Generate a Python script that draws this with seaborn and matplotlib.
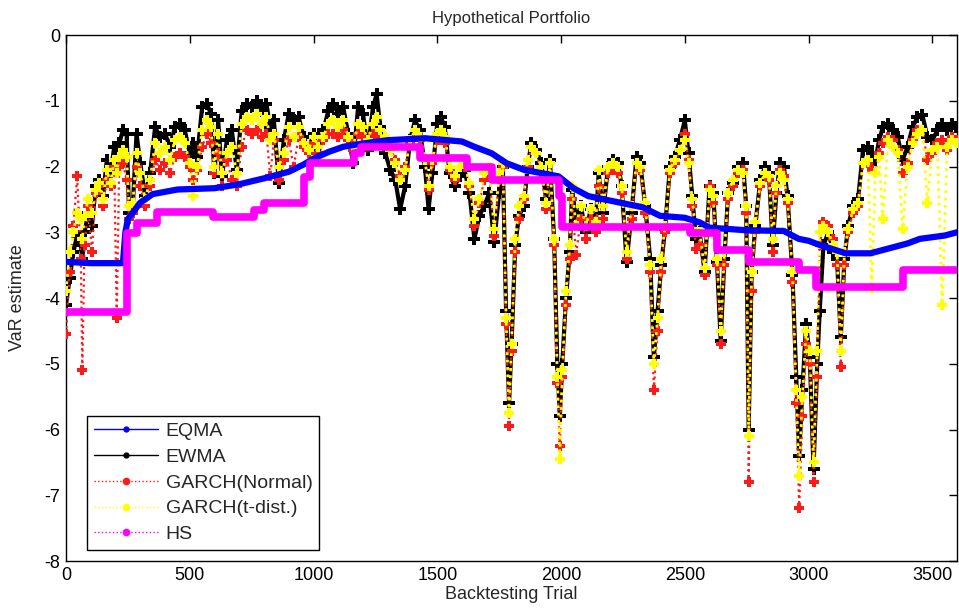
import matplotlib
matplotlib.use("Agg")
import matplotlib.pyplot as plt
from matplotlib.lines import Line2D
import seaborn as sns
import pandas as pd

# ---------------- data ----------------
trials = [0, 15, 30, 45, 60, 66, 75, 90, 105, 120, 135, 150, 165, 180, 195, 205, 215, 230, 245, 255,
          270, 285, 300, 320, 340, 360, 380, 400, 420, 440, 460, 480, 500, 515, 530, 550, 570, 585, 600, 615,
          630, 650, 670, 690, 710, 730, 750, 770, 790, 810, 825, 840, 860, 880, 900, 920, 940, 960, 980, 1000,
          1020, 1040, 1060, 1080, 1100, 1120, 1140, 1160, 1180, 1200, 1220, 1240, 1255, 1270, 1290, 1310, 1330, 1350, 1370, 1390,
          1410, 1430, 1450, 1465, 1480, 1500, 1515, 1530, 1550, 1570, 1590, 1610, 1630, 1650, 1670, 1690, 1710, 1730, 1750, 1765,
          1778, 1790, 1800, 1815, 1830, 1850, 1865, 1880, 1900, 1920, 1940, 1955, 1972, 1985, 1995, 2005, 2020, 2035, 2045, 2060,
          2080, 2100, 2120, 2140, 2152, 2170, 2190, 2210, 2230, 2245, 2265, 2285, 2305, 2320, 2340, 2360, 2375, 2390, 2405, 2420,
          2440, 2460, 2480, 2500, 2515, 2530, 2545, 2560, 2580, 2600, 2615, 2630, 2645, 2660, 2675, 2695, 2715, 2735, 2748, 2758,
          2770, 2785, 2805, 2825, 2840, 2855, 2870, 2885, 2900, 2915, 2935, 2950, 2962, 2975, 2990, 3005, 3020, 3035, 3045, 3060,
          3080, 3100, 3115, 3130, 3145, 3160, 3180, 3200, 3220, 3240, 3255, 3270, 3285, 3300, 3320, 3340, 3360, 3380, 3400, 3420,
          3440, 3460, 3480, 3500, 3520, 3540, 3560, 3580, 3595]

ewma = [-4.10, -3.70, -3.30, -3.05, -3.20, -3.40, -3.00, -2.70, -2.90, -2.30, -2.20, -2.45, -1.90, -2.10, -1.70, -1.90, -1.65, -1.45, -1.50, -2.70,
        -2.60, -1.50, -1.95, -2.45, -2.10, -1.40, -1.55, -1.50, -1.70, -1.40, -1.35, -1.45, -1.80, -1.65, -1.85, -1.10, -1.05, -1.20, -2.10, -1.30,
        -2.15, -1.60, -1.45, -2.05, -1.15, -1.05, -1.10, -1.00, -1.15, -1.05, -1.40, -1.30, -2.25, -1.60, -1.20, -1.30, -1.25, -1.55, -1.75, -1.50,
        -1.80, -1.45, -1.15, -1.05, -1.20, -1.10, -1.50, -1.95, -1.10, -1.20, -1.75, -1.10, -0.90, -1.40, -1.80, -2.05, -2.20, -2.65, -2.30, -1.60,
        -1.30, -1.45, -2.00, -2.65, -2.10, -1.35, -1.25, -1.40, -2.10, -2.30, -2.15, -2.05, -2.40, -3.10, -2.75, -2.60, -2.40, -3.15, -2.40, -2.00,
        -4.20, -5.60, -4.70, -3.20, -2.75, -2.60, -2.00, -1.65, -1.75, -1.95, -2.50, -1.90, -3.10, -5.00, -5.80, -5.00, -4.00, -3.30, -2.35, -2.80,
        -2.60, -3.00, -2.65, -2.90, -2.10, -2.70, -2.00, -1.90, -1.95, -2.30, -3.45, -2.70, -1.85, -1.95, -2.60, -3.40, -4.90, -4.20, -3.50, -2.95,
        -2.00, -1.85, -1.60, -1.30, -1.80, -2.45, -3.10, -3.00, -3.60, -2.30, -2.40, -3.45, -4.65, -3.40, -2.40, -2.25, -2.00, -1.95, -2.60, -6.00,
        -3.60, -2.90, -2.20, -2.00, -2.10, -3.20, -2.40, -1.95, -2.00, -2.45, -3.65, -5.20, -6.40, -5.40, -4.40, -4.90, -6.60, -5.00, -4.20, -3.20,
        -3.00, -3.30, -3.40, -4.60, -3.40, -2.90, -2.60, -2.50, -1.75, -1.70, -1.80, -1.90, -1.60, -1.40, -1.35, -1.45, -1.55, -1.90, -1.70, -1.40,
        -1.25, -1.22, -1.55, -1.60, -1.45, -1.35, -1.45, -1.35, -1.40]

garch_n = [-4.55, -3.60, -2.90, -2.15, -3.40, -5.10, -3.20, -2.60, -3.30, -2.40, -2.30, -2.60, -2.20, -2.30, -2.00, -4.30, -2.00, -1.95, -2.20, -2.80,
           -2.70, -2.00, -2.30, -2.60, -2.30, -1.90, -2.05, -1.95, -2.10, -1.85, -1.80, -1.85, -2.00, -2.20, -2.05, -1.70, -1.50, -1.65, -2.10, -1.80,
           -2.30, -1.90, -2.20, -2.30, -1.70, -1.45, -1.50, -1.45, -1.55, -1.50, -2.15, -1.60, -2.20, -1.90, -1.60, -2.00, -1.55, -1.70, -1.80, -1.65,
           -1.80, -1.60, -1.50, -1.50, -1.55, -1.45, -1.60, -1.75, -1.50, -1.55, -1.65, -1.50, -1.50, -1.55, -1.60, -1.70, -1.90, -2.15, -2.00, -1.65,
           -1.55, -1.60, -1.90, -2.35, -1.95, -1.60, -1.60, -1.65, -2.05, -2.20, -2.00, -2.00, -2.30, -2.90, -2.55, -2.20, -2.10, -3.05, -2.20, -2.00,
           -4.40, -5.95, -4.80, -3.30, -2.80, -2.50, -2.00, -1.70, -1.80, -2.10, -2.65, -1.95, -3.20, -5.30, -6.25, -5.20, -4.10, -3.40, -2.50, -3.35,
           -2.80, -3.10, -2.80, -3.00, -2.30, -2.80, -2.10, -2.00, -2.10, -2.40, -3.40, -2.80, -1.95, -2.05, -2.70, -3.60, -5.40, -4.50, -3.60, -3.00,
           -2.10, -1.95, -1.75, -1.50, -1.90, -2.60, -3.25, -3.20, -3.65, -2.30, -2.55, -3.50, -4.70, -3.50, -2.50, -2.30, -2.10, -2.05, -2.70, -6.80,
           -3.90, -3.00, -2.30, -2.10, -2.20, -3.30, -2.40, -2.05, -2.15, -2.55, -3.75, -5.60, -7.20, -5.80, -4.70, -5.00, -6.80, -5.20, -3.20, -2.85,
           -2.90, -3.10, -3.50, -5.05, -3.50, -3.00, -2.70, -2.60, -1.95, -1.95, -2.05, -2.10, -1.80, -1.65, -1.55, -1.60, -1.75, -2.10, -1.95, -1.60,
           -1.45, -1.45, -1.90, -1.80, -1.65, -1.60, -1.75, -1.55, -1.60]

garch_t = [-3.90, -3.30, -3.00, -2.70, -2.80, -3.10, -2.75, -2.50, -2.70, -2.35, -2.25, -2.50, -2.05, -2.25, -1.90, -2.10, -1.85, -1.75, -1.85, -2.60,
           -2.55, -1.80, -2.10, -2.50, -2.20, -1.65, -1.80, -1.70, -1.90, -1.60, -1.55, -1.65, -1.95, -2.45, -2.00, -1.45, -1.30, -1.40, -2.00, -1.50,
           -2.10, -1.80, -1.70, -2.10, -1.35, -1.25, -1.30, -1.20, -1.35, -1.25, -1.60, -1.50, -2.00, -1.80, -1.40, -1.55, -1.40, -1.65, -1.75, -1.55,
           -1.70, -1.55, -1.35, -1.30, -1.40, -1.30, -1.55, -1.70, -1.35, -1.40, -1.60, -1.35, -1.25, -1.45, -1.55, -1.75, -1.95, -2.20, -2.05, -1.60,
           -1.45, -1.55, -1.90, -2.30, -1.90, -1.50, -1.45, -1.55, -2.00, -2.15, -2.00, -1.95, -2.25, -2.80, -2.50, -2.10, -2.00, -2.95, -2.10, -1.95,
           -4.30, -5.75, -4.70, -3.10, -2.60, -2.45, -1.90, -1.70, -1.80, -2.00, -2.55, -1.95, -3.10, -5.20, -6.45, -5.10, -3.90, -3.20, -2.30, -2.90,
           -2.60, -2.90, -2.65, -2.85, -2.05, -2.60, -2.00, -1.95, -2.00, -2.30, -3.30, -2.60, -1.95, -2.00, -2.55, -3.50, -5.00, -4.30, -3.40, -2.90,
           -2.05, -1.90, -1.75, -1.60, -1.95, -2.50, -3.00, -3.00, -3.55, -2.35, -2.45, -3.40, -4.50, -3.30, -2.40, -2.20, -2.05, -2.10, -2.60, -6.10,
           -3.60, -2.85, -2.25, -2.10, -2.15, -3.10, -2.30, -2.10, -2.20, -2.50, -3.60, -5.40, -6.70, -5.50, -4.50, -4.80, -6.50, -4.80, -3.00, -2.90,
           -3.00, -3.20, -3.30, -4.80, -3.30, -2.95, -2.65, -2.55, -1.95, -1.90, -3.85, -2.10, -1.85, -2.80, -1.60, -1.70, -1.80, -2.95, -2.00, -1.65,
           -1.50, -1.45, -2.55, -1.75, -1.70, -4.10, -1.70, -1.60, -1.65]

eqma_t = [0, 100, 230, 240, 250, 300, 350, 450, 600, 700, 800, 900, 960, 1000, 1060, 1120, 1200, 1300, 1450,
          1600, 1650, 1720, 1780, 1850, 1990, 2050, 2110, 2200, 2330, 2400, 2500, 2560, 2600, 2750, 2900, 2960,
          3000, 3050, 3150, 3250, 3300, 3400, 3450, 3550, 3600]
eqma_v = [-3.45, -3.47, -3.47, -3.00, -2.80, -2.55, -2.42, -2.35, -2.33, -2.27, -2.18, -2.08, -1.97, -1.88, -1.78, -1.70, -1.65, -1.60, -1.57,
          -1.62, -1.70, -1.80, -1.95, -2.05, -2.15, -2.33, -2.45, -2.52, -2.62, -2.75, -2.78, -2.85, -2.93, -2.97, -2.98, -3.10,
          -3.13, -3.20, -3.32, -3.32, -3.27, -3.17, -3.10, -3.05, -3.00]

hs_t = [0, 247, 285, 368, 594, 760, 800, 960, 985, 1165, 1190, 1430, 1620, 1720, 1990, 2005, 2520, 2630, 2760, 2960, 3030, 3380, 3600]
hs_v = [-4.21, -3.01, -2.86, -2.69, -2.77, -2.66, -2.56, -2.16, -1.95, -1.80, -1.71, -1.87, -2.00, -2.20, -2.45, -2.92, -3.01, -3.27,
        -3.45, -3.57, -3.83, -3.57, -3.57]

series_names = ["EQMA", "EWMA", "GARCH(Normal)", "GARCH(t-dist.)", "HS"]
x_ticks = [0, 500, 1000, 1500, 2000, 2500, 3000, 3500]
y_ticks = [0, -1, -2, -3, -4, -5, -6, -7, -8]

# ---------------- figure ----------------
sns.set_theme(style="white")
plt.rcParams["font.family"] = ["Liberation Sans", "DejaVu Sans"]

fig = plt.figure(figsize=(9.59, 6.13), dpi=100)
ax = fig.add_axes([0.0688, 0.0848, 0.9292, 0.8581])

df_g = pd.DataFrame({"t": trials, "ewma": ewma, "gn": garch_n, "gt": garch_t})
df_e = pd.DataFrame({"t": eqma_t, "v": eqma_v})
df_h = pd.DataFrame({"t": hs_t, "v": hs_v})

sns.lineplot(data=df_g, x="t", y="ewma", ax=ax, color="black", linewidth=3.0,
             marker="P", markersize=8, markeredgewidth=0, legend=False, zorder=2)
sns.lineplot(data=df_g, x="t", y="gn", ax=ax, color="#ff1a1a", linewidth=1.6, linestyle=":",
             marker="P", markersize=7.5, markeredgewidth=0, legend=False, zorder=3)
sns.lineplot(data=df_g, x="t", y="gt", ax=ax, color="#ffff00", linewidth=2.0, linestyle=":",
             marker="P", markersize=7.5, markeredgewidth=0, legend=False, zorder=4)
sns.lineplot(data=df_e, x="t", y="v", ax=ax, color="#0000ff", linewidth=4.5, legend=False, zorder=5)
sns.lineplot(data=df_h, x="t", y="v", ax=ax, color="#ff00ff", linewidth=5.5, drawstyle="steps-post", legend=False, zorder=6)

ax.set_xlim(0, 3600)
ax.set_ylim(-8, 0)
ax.set_xticks(x_ticks)
ax.set_yticks(y_ticks)
ax.set_xticklabels([str(v) for v in x_ticks])
ax.set_yticklabels([str(v) for v in y_ticks])
ax.tick_params(direction="in", length=6, width=1, top=True, right=True, labelsize=13, colors="black", pad=4)
for s in ax.spines.values():
    s.set_visible(True)
    s.set_color("black")
    s.set_linewidth(1)

ax.set_xlabel("Backtesting Trial", fontsize=13, labelpad=2)
ax.set_ylabel("VaR estimate", fontsize=13, labelpad=13)
ax.set_title("Hypothetical Portfolio", fontsize=12,
             family=["Liberation Sans Narrow", "Liberation Sans"], pad=9)

handles = [
    Line2D([], [], color="#0000ff", lw=1, marker=".", markersize=7),
    Line2D([], [], color="black", lw=1, marker=".", markersize=7),
    Line2D([], [], color="#ff1a1a", lw=1, ls=":", marker=".", markersize=9),
    Line2D([], [], color="#ffff00", lw=1, ls=":", marker=".", markersize=9),
    Line2D([], [], color="#ff00ff", lw=1, ls=":", marker=".", markersize=9),
]
leg = ax.legend(handles, series_names, loc="lower left", bbox_to_anchor=(0.0236, 0.021),
                borderaxespad=0, fancybox=False, framealpha=1, edgecolor="black",
                fontsize=14, handlelength=3.3, labelspacing=0.42, borderpad=0.35, handletextpad=0.4)
leg.get_frame().set_linewidth(1)

fig.savefig("out.png", dpi=100)
